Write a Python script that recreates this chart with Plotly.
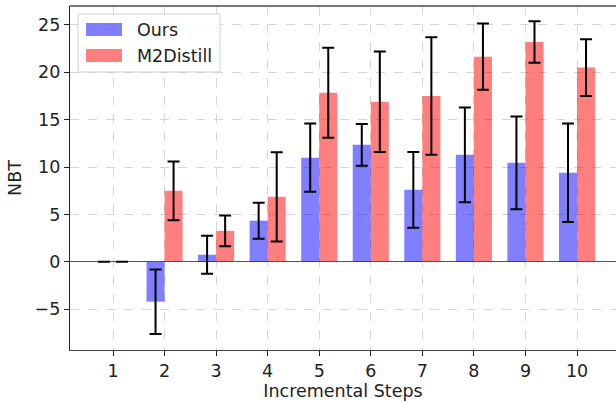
import plotly.graph_objects as go

steps = [1, 2, 3, 4, 5, 6, 7, 8, 9, 10]
ours = [0.0, -4.2, 0.75, 4.35, 11.0, 12.35, 7.6, 11.3, 10.45, 9.4]
ours_err = [0.0, 3.4, 2.0, 1.9, 3.6, 2.2, 4.0, 5.0, 4.9, 5.2]
m2d = [0.0, 7.5, 3.27, 6.86, 17.85, 16.9, 17.5, 21.65, 23.2, 20.5]
m2d_err = [0.0, 3.1, 1.62, 4.7, 4.74, 5.3, 6.2, 3.5, 2.2, 3.0]
series_names = ["Ours", "M2Distill"]
series_colors = ["rgba(0,0,255,0.5)", "rgba(255,0,0,0.5)"]

W, H = 616, 402
L, R, T, B = 70, 0, 6, 52
width = 0.35
font = dict(family="DejaVu Sans", size=17.5, color="#222")

fig = go.Figure()
fig.add_trace(go.Bar(
    x=[s - width / 2 for s in steps], y=ours, width=width, name=series_names[0],
    marker=dict(color=series_colors[0], line=dict(width=0)),
    error_y=dict(type="data", array=ours_err, visible=True, color="black",
                 thickness=2, width=6),
))
fig.add_trace(go.Bar(
    x=[s + width / 2 for s in steps], y=m2d, width=width, name=series_names[1],
    marker=dict(color=series_colors[1], line=dict(width=0)),
    error_y=dict(type="data", array=m2d_err, visible=True, color="black",
                 thickness=2, width=6),
))

fig.update_layout(
    width=W, height=H,
    margin=dict(l=L, r=R, t=T, b=B),
    plot_bgcolor="white", paper_bgcolor="white",
    font=font,
    barmode="overlay",
    showlegend=False,
    xaxis=dict(
        range=[0.166, 10.756], tickmode="array", tickvals=steps,
        ticktext=[str(s) for s in steps], tickfont=font,
        showgrid=True, gridcolor="#d5d5d5", griddash="dash", gridwidth=1,
        ticks="outside", ticklen=5, tickcolor="#222", tickwidth=1,
        showline=True, linecolor="#444", linewidth=1.2, mirror=False,
        zeroline=False,
        title=dict(text="Incremental Steps", standoff=2, font=font),
    ),
    yaxis=dict(
        range=[-9.3, 27.0], tickmode="array", tickvals=[-5, 0, 5, 10, 15, 20, 25],
        tickfont=font,
        showgrid=True, gridcolor="#d5d5d5", griddash="dash", gridwidth=1,
        ticks="outside", ticklen=5, tickcolor="#222", tickwidth=1,
        showline=True, linecolor="#222", linewidth=1.2,
        zeroline=True, zerolinecolor="#555", zerolinewidth=1,
        title=dict(text="NBT", standoff=8, font=font),
    ),
)

pw, ph = W - L - R, H - T - B
def px(x):
    return (x - L) / pw
def py(y):
    return (H - B - y) / ph

# top spine
fig.add_shape(type="line", xref="paper", yref="paper", x0=0, x1=1, y0=1, y1=1,
              line=dict(color="#777", width=2))

# legend (drawn manually to match swatch sizes)
fig.add_shape(type="rect", xref="paper", yref="paper",
              x0=px(78), x1=px(220), y0=py(72), y1=py(14),
              fillcolor="rgba(255,255,255,0.8)", line=dict(color="#d0d0d0", width=1))
for i, (nm, col) in enumerate(zip(series_names, series_colors)):
    top = 23 + i * 26
    fig.add_shape(type="rect", xref="paper", yref="paper",
                  x0=px(86), x1=px(122), y0=py(top + 13), y1=py(top),
                  fillcolor=col, line=dict(width=0))
    fig.add_annotation(xref="paper", yref="paper", x=px(135), y=py(top + 6.5),
                       text=nm, showarrow=False, xanchor="left", yanchor="middle",
                       font=font)

fig.write_html("out.html", config={"displayModeBar": False},
               post_script="document.body.style.margin='0';document.body.style.padding='0';")
